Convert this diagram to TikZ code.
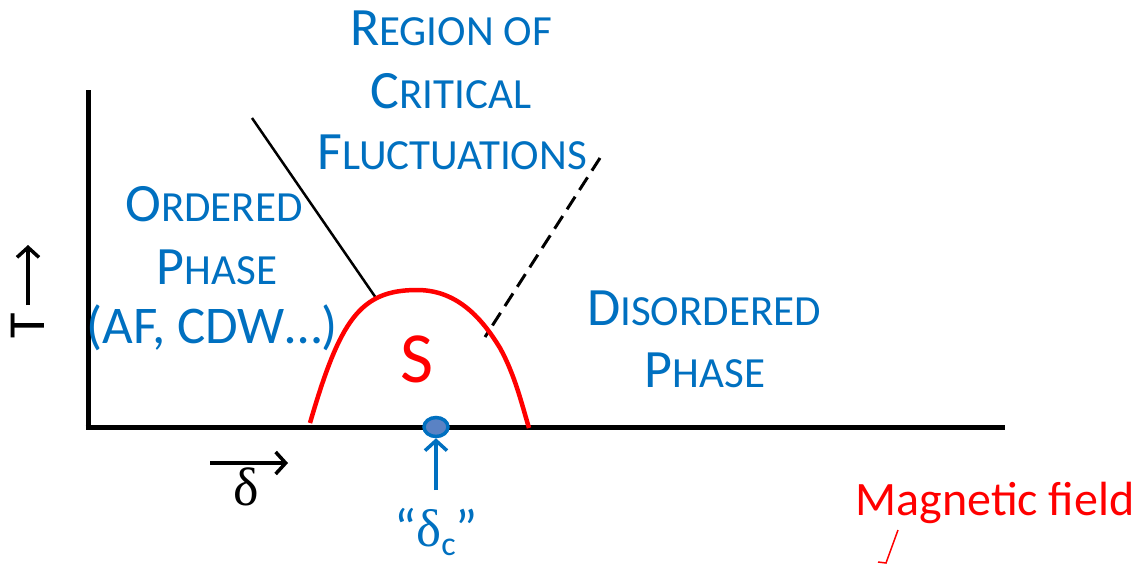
\documentclass[tikz,border=0pt]{standalone}
\usepackage{fontspec}
\setmainfont{Carlito}
\newfontfamily\serifgreek{Liberation Serif}
\usetikzlibrary{arrows.meta,shapes.geometric}
\definecolor{mblue}{HTML}{0070C0}
\definecolor{mlight}{HTML}{5A82C4}
\definecolor{mred}{HTML}{FF0000}
\newcommand\bigsc[2]{{\fontsize{54}{60}\selectfont #1}{\fontsize{43}{47}\selectfont #2}}
\tikzset{
  bluetext/.style={text=mblue, inner sep=0pt, anchor=base},
  axisline/.style={line width=5pt, black},
  chev/.style={-{Straight Barb[length=10pt,width=22pt,line width=3.5pt]}},
}
\begin{document}
\begin{tikzpicture}[x=1pt,y=-1pt]
\useasboundingbox (0,0) rectangle (1141,565);
% axes
\coordinate (ytop) at (88,90);
\coordinate (orig) at (88,427);
\coordinate (xend) at (1005,427);
\draw[axisline] (ytop) -- (88,429.5);
\draw[axisline] (85.5,427) -- (xend);
% boundary lines
\coordinate (l1a) at (252,118);
\coordinate (l1b) at (376,298);
\draw[line width=2.5pt] (l1a) -- (l1b);
\coordinate (l2a) at (600,158);
\coordinate (l2b) at (485,337);
\draw[line width=3pt, dash pattern=on 15pt off 8pt] (l2a) -- (l2b);
% dome
\coordinate (dl0) at (310,423);
\coordinate (dtop) at (417,290);
\coordinate (dsh) at (500,348);
\coordinate (dr0) at (529,428);
\draw[mred, line width=4.5pt] (dl0) .. controls (340,320) and (360,290) .. (dtop)
  .. controls (455,290) and (480,315) .. (dsh)
  .. controls (515,375) and (522,405) .. (dr0);
% texts
\node[bluetext] (r1) at (451,45) {\bigsc{R}{EGION OF}};
\node[bluetext] (r2) at (451,108) {\bigsc{C}{RITICAL}};
\node[bluetext] (r3) at (452,169) {\bigsc{F}{LUCTUATIONS}};
\node[bluetext] (o1) at (214,221) {\bigsc{O}{RDERED}};
\node[bluetext] (o2) at (217,284) {\bigsc{P}{HASE}};
\node[bluetext] (o3) at (212,343) {\fontsize{53}{60}\selectfont (AF, CDW…)};
\node[bluetext] (d1) at (704,325) {\bigsc{D}{ISORDERED}};
\node[bluetext] (d2) at (705,387) {\bigsc{P}{HASE}};
\node[text=mred, inner sep=0pt, anchor=base] (s) at (417,382) {\fontsize{72}{80}\selectfont S};
\node[text=mred, inner sep=0pt, anchor=base] (mf) at (995,515) {\fontsize{48}{52}\selectfont Magnetic field};
% delta_c marker
\node[ellipse, minimum width=24pt, minimum height=19pt, inner sep=0pt, draw=mblue, line width=3.5pt, fill=mlight] (dot) at (436,427) {};
\node[bluetext] (dc) at (436,546) {\fontsize{53}{60}\selectfont “{\serifgreek δ}\raisebox{-9pt}{\fontsize{34}{38}\selectfont c}”};
\coordinate (dcarr) at (436,490);
\draw[mblue, line width=3.5pt, chev] (dcarr) -- (dot.south);
% T axis label
\node[inner sep=0pt, rotate=90] (T) at (28,326) {\fontsize{52}{60}\selectfont T};
\coordinate (ta) at (28,305);
\coordinate (tb) at (28,245);
\draw[line width=3.5pt, chev] (ta) -- (tb);
% delta axis label
\node[inner sep=0pt, anchor=base] (dl) at (246,505) {\fontsize{54}{60}\selectfont\serifgreek δ};
\coordinate (da) at (210,463);
\coordinate (db) at (288,463);
\draw[line width=3.5pt, chev] (da) -- (db);
% small red mark
\coordinate (ma) at (898,530);
\coordinate (mb) at (886,563);
\coordinate (mc) at (878,562);
\draw[mred, line width=1.5pt] (ma) -- (mb) -- (mc);
\end{tikzpicture}
\end{document}
